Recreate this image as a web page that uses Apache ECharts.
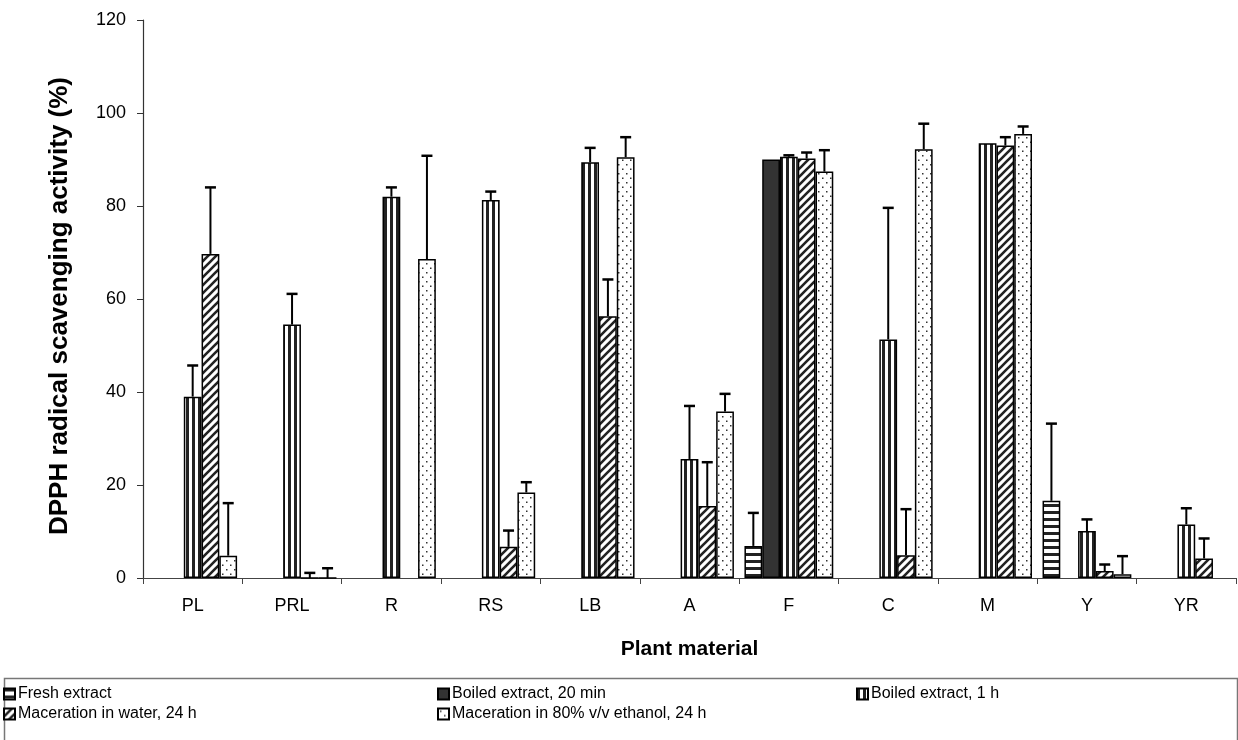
<!DOCTYPE html>
<html>
<head>
<meta charset="utf-8">
<title>DPPH</title>
<script src="https://cdn.jsdelivr.net/npm/echarts@6.0.0/dist/echarts.min.js"></script>
<style>
body{margin:0;background:#fff;}
#main{width:1238px;height:740px;}
</style>
</head>
<body>
<div id="main"></div>
<script>
var categories = ['PL','PRL','R','RS','LB','A','F','C','M','Y','YR']
var seriesNames = ['Fresh extract','Boiled extract, 20 min','Boiled extract, 1 h','Maceration in water, 24 h','Maceration in 80% v/v ethanol, 24 h']

var fresh      = [null,null,null,null,null,null,6.9,null,null,16.6,null]
var freshErr   = [null,null,null,null,null,null,7.1,null,null,16.6,null]
var boiled20   = [null,null,null,null,null,null,90.0,null,null,null,null]
var boiled20Err= [null,null,null,null,null,null,null,null,null,null,null]
var boiled1h   = [39.0,54.5,82.0,81.3,89.4,25.6,90.6,51.3,93.5,10.1,11.5]
var boiled1hErr= [6.7,6.6,2.0,1.8,3.1,11.4,0.3,28.3,null,2.5,3.5]
var water      = [69.7,0,null,6.7,56.3,15.5,90.2,4.9,93.0,1.5,4.2]
var waterErr   = [14.3,1.1,null,3.5,7.9,9.4,1.3,9.9,1.8,1.4,4.3]
var ethanol    = [4.8,0,68.6,18.4,90.5,35.8,87.4,92.2,95.5,0.8,null]
var ethanolErr = [11.3,2.1,22.2,2.2,4.3,3.8,4.6,5.5,1.6,3.9,null]

var yTicks = {min:0,max:120,interval:20}

var catGap = 0.106   // gap between groups, share of the category width

function makePattern(kind){   // canvas fill patterns like the old excel ones
	var c = document.createElement('canvas')
	var ctx = c.getContext('2d')
	if(kind=='hstripe'){
		c.width=6;c.height=7
		ctx.fillStyle='#fff';ctx.fillRect(0,0,6,7)
		ctx.fillStyle='#222';ctx.fillRect(0,0,6,3)
	}else if(kind=='vstripe'){
		c.width=6;c.height=6
		ctx.fillStyle='#fff';ctx.fillRect(0,0,6,6)
		ctx.fillStyle='#222';ctx.fillRect(0,0,3,6)
	}else if(kind=='diag'){
		c.width=8;c.height=8
		ctx.fillStyle='#fff';ctx.fillRect(0,0,8,8)
		ctx.strokeStyle='#222';ctx.lineWidth=2.6
		ctx.beginPath()
		ctx.moveTo(-2,10);ctx.lineTo(10,-2)
		ctx.moveTo(-6,6);ctx.lineTo(6,-6)
		ctx.moveTo(2,14);ctx.lineTo(14,2)
		ctx.stroke()
	}else{
		c.width=8;c.height=9
		ctx.fillStyle='#fff';ctx.fillRect(0,0,8,9)
		ctx.fillStyle='#333'
		ctx.fillRect(2,2,1.5,1.5)
		ctx.fillRect(6,6.5,1.5,1.5)
	}
	return {image:c,repeat:'repeat'}
}

var fills = [makePattern('hstripe'),'#333333',makePattern('vstripe'),makePattern('diag'),makePattern('dots')]
var values = [fresh,boiled20,boiled1h,water,ethanol]
var errs = [freshErr,boiled20Err,boiled1hErr,waterErr,ethanolErr]

function errRender(slot){
	return function(params,api){
		var val = api.value(1), err = api.value(2)
		if(err==null||isNaN(err)) return
		var catW = api.size([1,0])[0]
		var barW = catW*(1-catGap)/5
		var base = api.coord([api.value(0),val])
		var top = api.coord([api.value(0),val+err])
		var x = base[0]+(slot-2)*barW
		var cap = 5.5
		return {
			type:'group',
			children:[
				{type:'line',shape:{x1:x,y1:base[1],x2:x,y2:top[1]},style:{stroke:'#000',lineWidth:2}},
				{type:'line',shape:{x1:x-cap,y1:top[1],x2:x+cap,y2:top[1]},style:{stroke:'#000',lineWidth:2.5}}
			]
		}
	}
}

var series = []
function each(arr,fn){for(var i=0;i<arr.length;i++) fn(i,arr[i])}
each(values,function(i,v){
	series.push({
		name:seriesNames[i],
		type:'bar',
		data:v,
		barGap:'0%',
		barCategoryGap:(catGap*100)+'%',
		itemStyle:{color:fills[i],borderColor:'#000',borderWidth:1.5},
		emphasis:{disabled:true}
	})
})
each(errs,function(i,e){
	var d = []
	for(var k=0;k<categories.length;k++){
		if(values[i][k]!=null && e[k]!=null) d.push([k,values[i][k],e[k]])
	}
	series.push({
		type:'custom',
		renderItem:errRender(i),
		data:d,
		encode:{x:0,y:1},
		z:5,
		silent:true
	})
})

function legendAt(name,left,top){
	return {
		data:[name],left:left,top:top,
		itemWidth:11,itemHeight:11,itemGap:3,
		icon:'rect',
		textStyle:{fontFamily:'Liberation Sans, Arial',fontSize:16,color:'#000',padding:[0,0,0,-2]},
		selectedMode:false
	}
}

var option = {
	animation:false,
	textStyle:{fontFamily:'Liberation Sans, Arial'},
	grid:{left:143,right:2,top:20,bottom:162},
	legend:[
		legendAt(seriesNames[0],-2,681),
		legendAt(seriesNames[1],432,681),
		legendAt(seriesNames[2],851,681),
		legendAt(seriesNames[3],-2,701),
		legendAt(seriesNames[4],432,701)
	],
	xAxis:{
		type:'category',
		data:categories,
		name:'Plant material',
		nameLocation:'middle',
		nameGap:61,
		nameTextStyle:{fontSize:21,fontWeight:'bold',color:'#000'},
		axisLine:{lineStyle:{color:'#444',width:1.2}},
		axisTick:{show:true,length:6,lineStyle:{color:'#444'}},
		axisLabel:{fontSize:18,color:'#000',margin:19}
	},
	yAxis:{
		type:'value',
		min:yTicks.min,max:yTicks.max,interval:yTicks.interval,
		axisLine:{show:true,lineStyle:{color:'#333',width:1.2}},
		axisTick:{show:true,length:6,lineStyle:{color:'#333'}},
		axisLabel:{fontSize:18,color:'#000',margin:17},
		splitLine:{show:false}
	},
	graphic:[
		{type:'text',x:60,y:306,rotation:Math.PI/2,
			style:{text:'DPPH radical scavenging activity (%)',fontSize:26,fontWeight:'bold',fill:'#000',fontFamily:'Liberation Sans, Arial',align:'center',verticalAlign:'middle'}},
		{type:'rect',left:2,top:676,shape:{width:1233,height:70},style:{fill:'none',stroke:'#777',lineWidth:1.5},silent:true}
	],
	series:series
}

var myChart = echarts.init(document.getElementById('main'))
myChart.setOption(option)
</script>
</body>
</html>
